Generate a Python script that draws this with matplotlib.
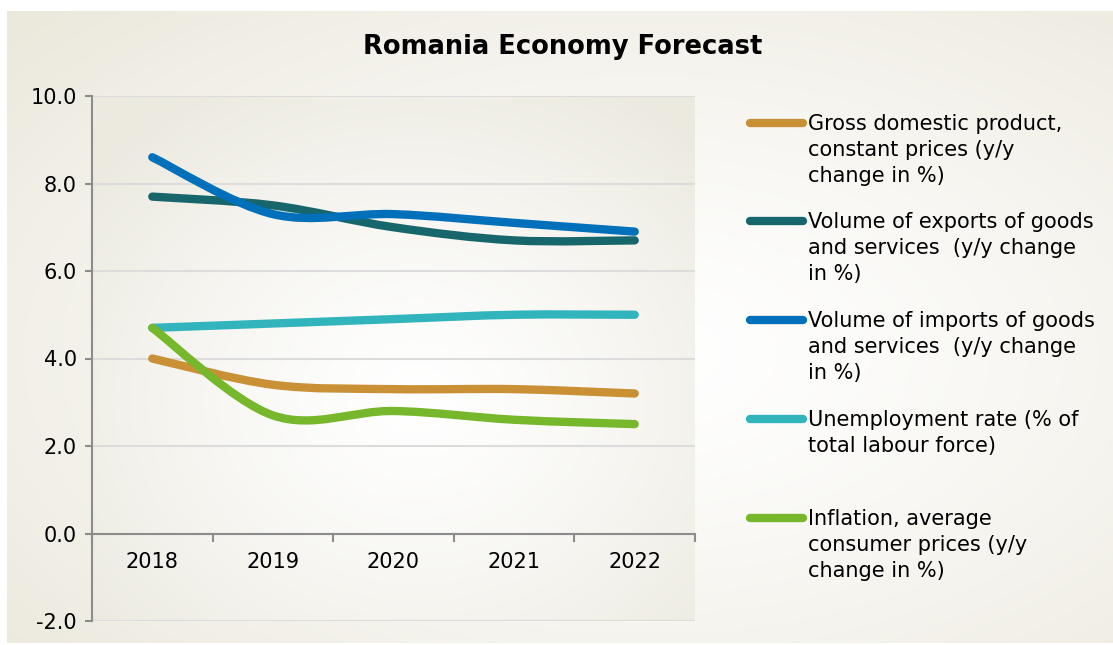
import numpy as np
import matplotlib.pyplot as plt
from matplotlib.path import Path
from matplotlib.patches import PathPatch
from matplotlib.lines import Line2D

plt.rcParams['font.family'] = 'DejaVu Sans'

years = ['2018', '2019', '2020', '2021', '2022']
gdp = [4.0, 3.4, 3.3, 3.3, 3.2]
exports = [7.7, 7.5, 7.0, 6.7, 6.7]
imports = [8.6, 7.3, 7.3, 7.1, 6.9]
unemployment = [4.7, 4.8, 4.9, 5.0, 5.0]
inflation = [4.7, 2.7, 2.8, 2.6, 2.5]

series = [
    (gdp, '#C99035', 'Gross domestic product,\nconstant prices (y/y\nchange in %)'),
    (exports, '#17666B', 'Volume of exports of goods\nand services  (y/y change\nin %)'),
    (imports, '#0070BA', 'Volume of imports of goods\nand services  (y/y change\nin %)'),
    (unemployment, '#31B4BC', 'Unemployment rate (% of\ntotal labour force)'),
    (inflation, '#77B72B', 'Inflation, average\nconsumer prices (y/y\nchange in %)'),
]

W, H = 1113, 645
fig = plt.figure(figsize=(W / 100, H / 100), dpi=100)
fig.patch.set_facecolor('white')


def radial(w, h, cx, cy, edge, spread=0.62, inner=(255, 255, 255)):
    yy, xx = np.mgrid[0:h, 0:w]
    r = np.hypot((xx - cx) / (w * spread), (yy - cy) / (h * spread))
    r = np.clip(r, 0, 1)[..., None] ** 1.3
    img = np.array(inner) * (1 - r) + np.array(edge) * r
    return img / 255.0


# chart area background
bg = fig.add_axes([7 / W, 2 / H, (W - 7) / W, (H - 13) / H], zorder=-2)
bg.imshow(radial(400, 240, 230, 130, (235, 232, 220), spread=0.78),
          aspect='auto', interpolation='bilinear')
bg.axis('off')

# plot area
ax = fig.add_axes([92 / W, 24 / H, 603 / W, 525 / H])
ax.imshow(radial(300, 260, 160, 150, (236, 234, 224), spread=0.68),
          aspect='auto', interpolation='bilinear', extent=(-0.5, 4.5, -2, 10),
          zorder=0)

x = np.arange(len(years))


def smooth_path(xs, ys):
    # cubic Bezier segments through every point (Catmull-Rom style)
    pts = np.column_stack([xs, ys]).astype(float)
    ext = np.vstack([pts[0], pts, pts[-1]])
    verts = [pts[0]]
    codes = [Path.MOVETO]
    for i in range(len(pts) - 1):
        p0, p1, p2, p3 = ext[i], ext[i + 1], ext[i + 2], ext[i + 3]
        verts += [p1 + (p2 - p0) / 6, p2 - (p3 - p1) / 6, p2]
        codes += [Path.CURVE4] * 3
    return Path(verts, codes)


for values, color, label in series:
    patch = PathPatch(smooth_path(x, values), facecolor='none', edgecolor=color,
                      lw=6, capstyle='round', joinstyle='round', zorder=3)
    ax.add_patch(patch)

ax.set_xlim(-0.5, 4.5)
ax.set_ylim(-2, 10)
ax.set_yticks(np.arange(-2, 10.1, 2))
ax.yaxis.set_major_formatter(plt.FuncFormatter(lambda v, p: f'{v:.1f}'))
ax.set_xticks([])
for v in np.arange(-2, 10.1, 2):
    ax.axhline(v, color='#DCDCDC', lw=1.5, zorder=1)

# category axis at zero with ticks between categories
ax.axhline(0, color='#8C8C8C', lw=1.5, zorder=2)
for b in np.arange(-0.5, 4.6, 1):
    ax.plot([b, b], [0, -0.17], color='#8C8C8C', lw=1.5, zorder=2,
            clip_on=False)
for xi, yr in zip(x, years):
    ax.text(xi, -0.65, yr, ha='center', va='center', fontsize=15)

for s in ['top', 'right', 'bottom']:
    ax.spines[s].set_visible(False)
ax.spines['left'].set_color('#8C8C8C')
ax.spines['left'].set_linewidth(1.5)
ax.tick_params(axis='y', length=5, width=1.5, color='#8C8C8C', labelsize=15,
               pad=6)

fig.text(563 / W, 1 - 47 / H, 'Romania Economy Forecast', ha='center',
         va='center', fontsize=18.5, fontweight='bold')

# legend
legend_y = [123, 221, 320, 419, 518]
for (values, color, label), ly in zip(series, legend_y):
    fig.add_artist(Line2D([750 / W, 803 / W], [1 - ly / H, 1 - ly / H],
                          color=color, lw=6, solid_capstyle='round'))
    for k, line in enumerate(label.split('\n')):
        fig.text(808 / W, 1 - (ly + 26 * k + 1) / H, line, ha='left',
                 va='center', fontsize=15)

fig.savefig('out.png', dpi=100)
